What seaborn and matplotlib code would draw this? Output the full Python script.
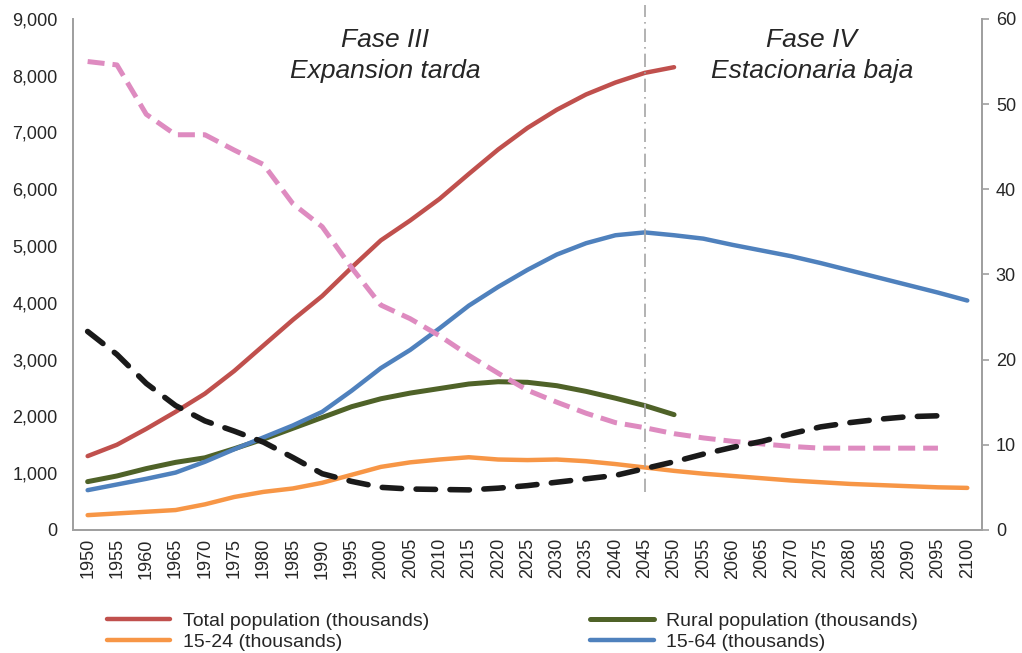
import pandas as pd
import matplotlib.pyplot as plt
import matplotlib.ticker as mticker
import seaborn as sns

# ---------------------------------------------------
# DATA
# ---------------------------------------------------

years = list(range(1950, 2101, 5))

total_pop = [1300, 1500, 1780, 2080, 2400, 2800, 3250, 3700, 4120, 4620,
             5100, 5450, 5830, 6270, 6700, 7080, 7400, 7670, 7880, 8050, 8150]

rural_pop = [850, 950, 1080, 1190, 1270, 1430, 1600, 1790, 1980, 2170,
             2310, 2410, 2490, 2570, 2610, 2600, 2540, 2440, 2320, 2190, 2030]

pop_15_24 = [260, 290, 320, 350, 450, 580, 670, 730, 830, 970,
             1110, 1190, 1240, 1280, 1240, 1230, 1240, 1210, 1160, 1100, 1040,
             990, 950, 910, 870, 840, 810, 790, 770, 750, 740]

pop_15_64 = [700, 800, 900, 1010, 1200, 1420, 1630, 1840, 2080, 2450,
             2850, 3170, 3550, 3950, 4280, 4580, 4850, 5050, 5190, 5240, 5190,
             5130, 5020, 4920, 4820, 4700, 4570, 4440, 4310, 4180, 4040]

# right axis series (1950-2095)
pink_rate = [55.0, 54.6, 48.8, 46.4, 46.4, 44.6, 42.9, 38.3, 35.6, 30.8,
             26.4, 24.8, 22.8, 20.5, 18.4, 16.4, 15.0, 13.7, 12.6, 12.0,
             11.3, 10.8, 10.4, 10.1, 9.8, 9.6, 9.6, 9.6, 9.6, 9.6]

black_rate = [23.3, 20.6, 17.2, 14.6, 12.8, 11.6, 10.3, 8.5, 6.6, 5.7,
              5.0, 4.8, 4.75, 4.7, 4.9, 5.2, 5.6, 6.0, 6.4, 7.2,
              8.0, 8.9, 9.7, 10.4, 11.3, 12.1, 12.6, 13.0, 13.3, 13.4]

# ---------------------------------------------------
# TABLES
# ---------------------------------------------------

df_total = pd.DataFrame({"year": years[:len(total_pop)], "value": total_pop})
df_rural = pd.DataFrame({"year": years[:len(rural_pop)], "value": rural_pop})
df_1524 = pd.DataFrame({"year": years, "value": pop_15_24})
df_1564 = pd.DataFrame({"year": years, "value": pop_15_64})
df_pink = pd.DataFrame({"year": years[:len(pink_rate)], "value": pink_rate})
df_black = pd.DataFrame({"year": years[:len(black_rate)], "value": black_rate})

# ---------------------------------------------------
# PLOT
# ---------------------------------------------------

sns.set_style("white")
plt.rcParams['font.family'] = ['Liberation Sans', 'DejaVu Sans']

TXT = "#262626"

fig = plt.figure(figsize=(10.22, 6.53), dpi=100)
ax = fig.add_axes([0.0714, 0.1885, 0.8894, 0.7825])
ax2 = ax.twinx()

sns.lineplot(data=df_total, x="year", y="value", ax=ax, color="#C0504D", lw=3.2,
             label="Total population (thousands)")
sns.lineplot(data=df_1524, x="year", y="value", ax=ax, color="#F79646", lw=3.2,
             label="15-24 (thousands)")
sns.lineplot(data=df_rural, x="year", y="value", ax=ax, color="#4F6228", lw=3.6,
             label="Rural population (thousands)")
sns.lineplot(data=df_1564, x="year", y="value", ax=ax, color="#4F81BD", lw=3.2,
             label="15-64 (thousands)")

sns.lineplot(data=df_pink, x="year", y="value", ax=ax2, color="#DE8BC0", lw=3.6,
             legend=False)
sns.lineplot(data=df_black, x="year", y="value", ax=ax2, color="#1A1A1A", lw=4.0,
             legend=False)
ax2.lines[0].set_dashes([3.4, 1.6])
ax2.lines[1].set_dashes([3.5, 2.6])
ax2.lines[1].set_dash_capstyle("round")

# phase separator
ax.axvline(2045, ymin=0.075, ymax=1.027, color="#A6A6A6", lw=1.2,
           ls=(0, (8, 3, 1, 3)), clip_on=False)

ax.text(2000.7, 8630, "Fase III", fontsize=19, style="italic", ha="center",
        va="center", color=TXT)
ax.text(2000.7, 8080, "Expansion tarda", fontsize=19, style="italic", ha="center",
        va="center", color=TXT)
ax.text(2073.5, 8630, "Fase IV", fontsize=19, style="italic", ha="center",
        va="center", color=TXT)
ax.text(2073.5, 8080, "Estacionaria baja", fontsize=19, style="italic", ha="center",
        va="center", color=TXT)

# axes
ax.set_xlim(1947.5, 2102.5)
ax.set_ylim(0, 9000)
ax2.set_ylim(0, 60)
ax.set_xticks(years)
ax.set_xticklabels([str(y) for y in years], rotation=90)
ax.set_yticks(range(0, 9001, 1000))
ax.yaxis.set_major_formatter(mticker.FuncFormatter(lambda v, p: f"{int(v):,}"))
ax2.set_yticks(range(0, 61, 10))
ax.set_xlabel("")
ax.set_ylabel("")
ax2.set_xlabel("")
ax2.set_ylabel("")

for a in (ax, ax2):
    a.spines["top"].set_visible(False)
    for side in ("left", "right", "bottom"):
        a.spines[side].set_color("#A0A0A0")
        a.spines[side].set_linewidth(1.3)

ax.tick_params(axis="y", length=0, labelsize=13, colors=TXT, pad=11)
ax.tick_params(axis="x", length=0, labelsize=13, colors=TXT, pad=6)
ax2.tick_params(axis="y", length=5, width=1.2, color="#A0A0A0", labelsize=13,
                labelcolor=TXT, pad=5)

# legend
handles, labels = ax.get_legend_handles_labels()
ax.get_legend().remove()
fig.legend(handles, labels, ncol=2, loc="upper left", bbox_to_anchor=(0.1047, 0.062),
           frameon=False, fontsize=14, handlelength=3.25, handletextpad=0.65,
           columnspacing=8.3, labelspacing=0.15, borderpad=0, borderaxespad=0,
           labelcolor=TXT)

plt.savefig("out.png", dpi=100)
plt.close()
